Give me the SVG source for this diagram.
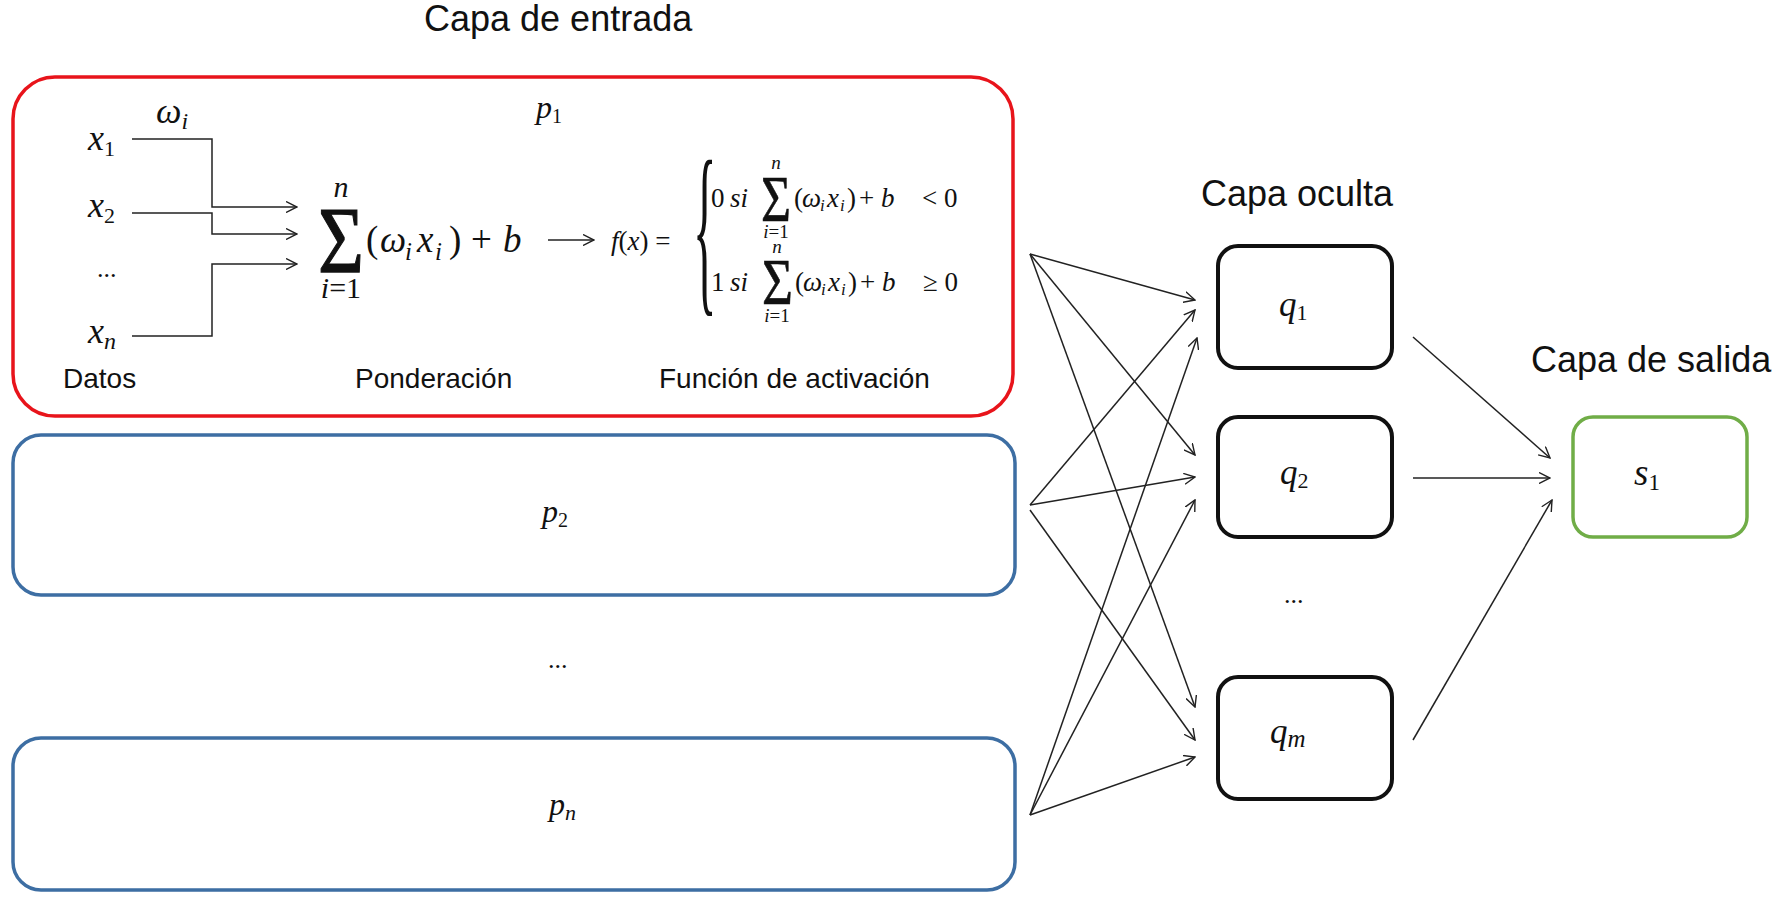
<svg xmlns="http://www.w3.org/2000/svg" width="1772" height="907" viewBox="0 0 1772 907">
<style>
.title{font-family:"Liberation Sans",Arial,sans-serif;font-size:36px;fill:#111}
.lab{font-family:"Liberation Sans",Arial,sans-serif;font-size:28px;fill:#111}
.m{font-family:"Liberation Serif","Times New Roman",serif;font-style:italic;fill:#111}
.r{font-family:"Liberation Serif","Times New Roman",serif;fill:#111}
.ln{fill:none;stroke:#222;stroke-width:1.5}
.box{fill:#fff}
</style>
<defs>
<marker id="arr" viewBox="0 0 12 12" refX="11" refY="6" markerWidth="12" markerHeight="12" markerUnits="userSpaceOnUse" orient="auto">
<path d="M0,0.5 L11,6 L0,11.5" fill="none" stroke="#222" stroke-width="1.4"/>
</marker>
</defs>
<rect width="1772" height="907" fill="#fff"/>

<text class="title" x="424" y="31">Capa de entrada</text>
<text class="title" x="1201" y="206">Capa oculta</text>
<text class="title" x="1531" y="372">Capa de salida</text>

<g id="p1">
<rect class="box" x="13" y="77" width="1000" height="339" rx="42" fill="none" stroke="#e8141b" stroke-width="3.5"/>
<text class="m" x="536" y="118" font-size="32">p<tspan class="r" font-style="normal" font-size="20" dy="5">1</tspan></text>
<text class="m" x="156" y="123" font-size="36">ω<tspan font-size="24" dy="6">i</tspan></text>
<text class="m" x="88" y="150" font-size="36">x<tspan class="r" font-style="normal" font-size="22" dy="6">1</tspan></text>
<text class="m" x="88" y="217" font-size="36">x<tspan class="r" font-style="normal" font-size="22" dy="6">2</tspan></text>
<text class="r" x="97" y="277" font-size="26">...</text>
<text class="m" x="88" y="343" font-size="36">x<tspan font-size="24" dy="6">n</tspan></text>
<path class="ln" d="M132,139 H212 V207 H297" marker-end="url(#arr)"/>
<path class="ln" d="M132,213 H212 V234 H297" marker-end="url(#arr)"/>
<path class="ln" d="M132,336 H212 V264 H297" marker-end="url(#arr)"/>
<text class="r" x="318" y="273" font-size="96" textLength="46" lengthAdjust="spacingAndGlyphs" stroke="#111" stroke-width="1.2">Σ</text>
<text class="m" x="341" y="197" font-size="30" text-anchor="middle">n</text>
<text class="m" x="341" y="298" font-size="30" text-anchor="middle">i<tspan class="r" font-style="normal">=1</tspan></text>
<text class="r" x="366" y="252" font-size="37">(</text>
<text class="m" x="380" y="252" font-size="37">ω</text>
<text class="m" x="405" y="260" font-size="25">i</text>
<text class="m" x="417" y="252" font-size="37">x</text>
<text class="m" x="435" y="260" font-size="25">i</text>
<text class="r" x="449" y="252" font-size="37">)</text>
<text class="r" x="471" y="252" font-size="37">+</text>
<text class="m" x="503" y="252" font-size="37">b</text>
<path class="ln" d="M548,240 H594" marker-end="url(#arr)"/>
<text class="m" x="611" y="250" font-size="27">f<tspan class="r" font-style="normal">(</tspan>x<tspan class="r" font-style="normal">) =</tspan></text>
<text class="r" transform="translate(693,291) scale(0.26,1)" font-size="188">{</text>
<text class="r" x="711" y="207" font-size="27">0</text>
<text class="m" x="730" y="207" font-size="27">si</text>
<text class="r" x="761" y="221" font-size="66" textLength="30" lengthAdjust="spacingAndGlyphs" stroke="#111" stroke-width="0.6">Σ</text>
<text class="m" x="776" y="169" font-size="19" text-anchor="middle">n</text>
<text class="m" x="776" y="238" font-size="19" text-anchor="middle">i<tspan class="r" font-style="normal">=1</tspan></text>
<text class="r" x="794" y="207" font-size="27">(</text>
<text class="m" x="802" y="207" font-size="27">ω</text>
<text class="m" x="820" y="211" font-size="17">i</text>
<text class="m" x="827" y="207" font-size="27">x</text>
<text class="m" x="840" y="211" font-size="17">i</text>
<text class="r" x="847" y="207" font-size="27">)</text>
<text class="r" x="859" y="207" font-size="27">+</text>
<text class="m" x="881" y="207" font-size="27">b</text>
<text class="r" x="922" y="207" font-size="27">&lt; 0</text>
<text class="r" x="711" y="291" font-size="27">1</text>
<text class="m" x="730" y="291" font-size="27">si</text>
<text class="r" x="762" y="304" font-size="66" textLength="31" lengthAdjust="spacingAndGlyphs" stroke="#111" stroke-width="0.6">Σ</text>
<text class="m" x="777" y="253" font-size="19" text-anchor="middle">n</text>
<text class="m" x="777" y="322" font-size="19" text-anchor="middle">i<tspan class="r" font-style="normal">=1</tspan></text>
<text class="r" x="795" y="291" font-size="27">(</text>
<text class="m" x="803" y="291" font-size="27">ω</text>
<text class="m" x="821" y="295" font-size="17">i</text>
<text class="m" x="828" y="291" font-size="27">x</text>
<text class="m" x="841" y="295" font-size="17">i</text>
<text class="r" x="848" y="291" font-size="27">)</text>
<text class="r" x="860" y="291" font-size="27">+</text>
<text class="m" x="882" y="291" font-size="27">b</text>
<text class="r" x="923" y="291" font-size="27">≥ 0</text>
<text class="lab" x="63" y="388">Datos</text>
<text class="lab" x="355" y="388">Ponderación</text>
<text class="lab" x="659" y="388">Función de activación</text>
</g>

<g id="p2">
<rect class="box" x="13" y="435" width="1002" height="160" rx="28" stroke="#3d6ea3" stroke-width="3.5"/>
<text class="m" x="542" y="522" font-size="32">p<tspan class="r" font-style="normal" font-size="20" dy="5">2</tspan></text>
</g>
<text class="r" x="548" y="668" font-size="26">...</text>
<g id="pn">
<rect class="box" x="13" y="738" width="1002" height="152" rx="28" stroke="#3d6ea3" stroke-width="3.5"/>
<text class="m" x="549" y="815" font-size="32">p<tspan font-size="22" dy="5">n</tspan></text>
</g>

<g id="q1">
<rect class="box" x="1218" y="246" width="174" height="122" rx="20" stroke="#111" stroke-width="4"/>
<text class="m" x="1279" y="316" font-size="35">q<tspan class="r" font-style="normal" font-size="22" dy="4">1</tspan></text>
</g>
<g id="q2">
<rect class="box" x="1218" y="417" width="174" height="120" rx="20" stroke="#111" stroke-width="4"/>
<text class="m" x="1280" y="484" font-size="35">q<tspan class="r" font-style="normal" font-size="22" dy="4">2</tspan></text>
</g>
<text class="r" x="1284" y="603" font-size="26">...</text>
<g id="qm">
<rect class="box" x="1218" y="677" width="174" height="122" rx="20" stroke="#111" stroke-width="4"/>
<text class="m" x="1270" y="743" font-size="35">q<tspan font-size="25" dy="4">m</tspan></text>
</g>
<g id="s1">
<rect class="box" x="1573" y="417" width="174" height="120" rx="20" stroke="#70ad47" stroke-width="3.5"/>
<text class="m" x="1634" y="485" font-size="37">s<tspan class="r" font-style="normal" font-size="23" dy="5">1</tspan></text>
</g>

<g id="connectors">
<line class="ln" x1="1030" y1="254" x2="1195" y2="300" marker-end="url(#arr)"/>
<line class="ln" x1="1030" y1="254" x2="1195" y2="455" marker-end="url(#arr)"/>
<line class="ln" x1="1030" y1="254" x2="1195" y2="707" marker-end="url(#arr)"/>
<line class="ln" x1="1030" y1="505" x2="1195" y2="310" marker-end="url(#arr)"/>
<line class="ln" x1="1030" y1="505" x2="1195" y2="477" marker-end="url(#arr)"/>
<line class="ln" x1="1030" y1="510" x2="1195" y2="740" marker-end="url(#arr)"/>
<line class="ln" x1="1030" y1="815" x2="1197" y2="338" marker-end="url(#arr)"/>
<line class="ln" x1="1030" y1="815" x2="1195" y2="500" marker-end="url(#arr)"/>
<line class="ln" x1="1030" y1="815" x2="1195" y2="757" marker-end="url(#arr)"/>
<line class="ln" x1="1413" y1="337" x2="1550" y2="458" marker-end="url(#arr)"/>
<line class="ln" x1="1413" y1="478" x2="1550" y2="478" marker-end="url(#arr)"/>
<line class="ln" x1="1413" y1="740" x2="1552" y2="500" marker-end="url(#arr)"/>
</g>
</svg>
